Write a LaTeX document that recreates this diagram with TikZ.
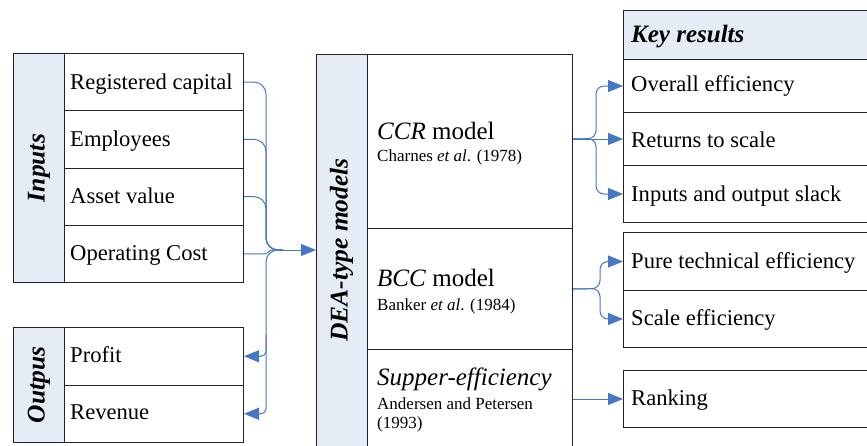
\documentclass[tikz,border=0pt]{standalone}
\usepackage{fontspec}
\setmainfont{Liberation Serif}
\usetikzlibrary{arrows.meta}
\definecolor{hdr}{RGB}{230,236,246}
\definecolor{cblue}{RGB}{70,118,196}
\definecolor{edge}{RGB}{35,35,35}
\tikzset{
  box/.style={draw=edge, line width=1pt, inner sep=0pt, anchor=north west},
  lab/.style={box, fill=hdr},
  txt/.style={anchor=base west, inner sep=0pt, font=\fontsize{22.6}{26}\selectfont},
  bigtxt/.style={anchor=base west, inner sep=0pt, font=\fontsize{25}{30}\selectfont},
  smalltxt/.style={anchor=base west, inner sep=0pt, font=\fontsize{17}{20}\selectfont},
  vlab/.style={rotate=90, inner sep=0pt, font=\fontsize{25.5}{30}\selectfont\bfseries\itshape},
  conn/.style={draw=cblue, line width=1pt},
  arr/.style={-{Triangle[length=15pt,width=12pt]}},
}
\begin{document}
\begin{tikzpicture}[x=1pt,y=-1pt]
\useasboundingbox (0,0) rectangle (867,445);
% ---------- Inputs ----------
\node[lab, minimum width=51pt, minimum height=229pt] (inl) at (13,53) {};
\node[vlab] (inlt) at (inl.center) {Inputs};
\node[box, minimum width=179pt, minimum height=57.25pt] (reg) at (64,53) {};
\node[box, minimum width=179pt, minimum height=57.25pt] (emp) at (64,110.25) {};
\node[box, minimum width=179pt, minimum height=57.25pt] (ast) at (64,167.5) {};
\node[box, minimum width=179pt, minimum height=57.25pt] (opc) at (64,224.75) {};
\node[txt] (regt) at (70,89) {Registered capital};
\node[txt] (empt) at (70,146) {Employees};
\node[txt] (astt) at (70,203) {Asset value};
\node[txt] (opct) at (70,260.5) {Operating Cost};
% ---------- Outputs ----------
\node[lab, minimum width=51pt, minimum height=115pt] (outl) at (13,327) {};
\node[vlab] (outlt) at (outl.center) {Outpus};
\node[box, minimum width=179pt, minimum height=57.5pt] (pro) at (64,327) {};
\node[box, minimum width=179pt, minimum height=57.5pt] (rev) at (64,384.5) {};
\node[txt] (prot) at (70,362.5) {Profit};
\node[txt] (revt) at (70,419) {Revenue};
% ---------- DEA models ----------
\node[lab, minimum width=51pt, minimum height=396pt] (deal) at (316,54) {};
\node[vlab] (dealt) at (341.5,250) {DEA-type models};
\node[box, minimum width=205pt, minimum height=174pt] (ccr) at (367,54) {};
\node[box, minimum width=205pt, minimum height=121pt] (bcc) at (367,228) {};
\node[box, minimum width=205pt, minimum height=101pt] (sup) at (367,349) {};
\node[bigtxt] (ccrt) at (377,139) {\textit{CCR} model};
\node[smalltxt] (ccrr) at (377,161.5) {Charnes \textit{et al}. (1978)};
\node[bigtxt] (bcct) at (377,286) {\textit{BCC} model};
\node[smalltxt] (bccr) at (377,310) {Banker \textit{et al}. (1984)};
\node[bigtxt] (supt) at (377,385) {\textit{Supper-efficiency}};
\node[smalltxt] (supr) at (377,409) {Andersen and Petersen};
\node[smalltxt] (supy) at (377,428) {(1993)};
% ---------- Key results ----------
\node[lab, minimum width=250pt, minimum height=49pt] (key) at (623,10) {};
\node[anchor=base west, inner sep=0pt, font=\fontsize{25}{30}\selectfont\bfseries\itshape] (keyt) at (631,42) {Key results};
\node[box, minimum width=250pt, minimum height=53pt] (oe) at (623,59) {};
\node[box, minimum width=250pt, minimum height=53pt] (rts) at (623,112) {};
\node[box, minimum width=250pt, minimum height=57pt] (ios) at (623,165) {};
\node[txt] (oet) at (631,91) {Overall efficiency};
\node[txt] (rtst) at (631,147) {Returns to scale};
\node[txt] (iost) at (631,201) {Inputs and output slack};
\node[box, minimum width=250pt, minimum height=58pt] (pte) at (623,232) {};
\node[box, minimum width=250pt, minimum height=57pt] (se) at (623,290) {};
\node[txt] (ptet) at (631,268) {Pure technical efficiency};
\node[txt] (set) at (631,325) {Scale efficiency};
\node[box, minimum width=250pt, minimum height=57pt] (rank) at (623,370) {};
\node[txt] (rankt) at (631,405) {Ranking};
% ---------- Connectors: left ----------
\coordinate (J) at (283,250);
\coordinate (bus) at (266,250);
\coordinate (hop) at (271,250);
\coordinate (b1) at (266,335);
\coordinate (b2) at (266,395);
\foreach \n in {reg,emp,ast}
  \draw[conn, rounded corners=12] (\n.east) -| (bus) -- (J);
\draw[conn] (opc.east) -- (opc.east -| bus) -- (hop) -- (J);
\draw[conn, arr] (J) -- (deal.west |- J);
\draw[conn, rounded corners=12] (J) -- (bus) -- (b2);
\draw[conn, arr, rounded corners=5] (b1) |- (pro.east);
\draw[conn, arr, rounded corners=5] (b2) |- (rev.east);
% ---------- Connectors: right ----------
\coordinate (fc) at (596,138.5);
\coordinate (fb) at (600,288.5);
\draw[conn, arr, rounded corners=8] (rts.west -| ccr.east) -- (fc) |- (oe.west);
\draw[conn, arr] (rts.west -| ccr.east) -- (rts.west);
\draw[conn, arr, rounded corners=8] (rts.west -| ccr.east) -- (fc) |- (ios.west);
\draw[conn, arr, rounded corners=8] (bcc.east) -- (fb) |- (pte.west);
\draw[conn, arr, rounded corners=8] (bcc.east) -- (fb) |- (se.west);
\draw[conn, arr] (rank.west -| sup.east) -- (rank.west);
\end{tikzpicture}
\end{document}
